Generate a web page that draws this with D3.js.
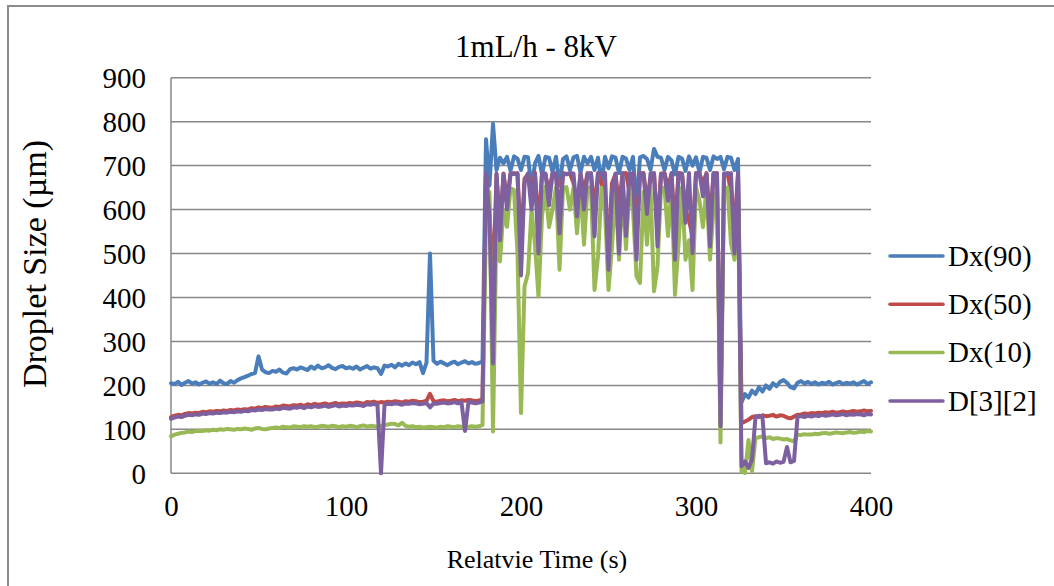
<!DOCTYPE html>
<html>
<head>
<meta charset="utf-8">
<script src="https://cdn.jsdelivr.net/npm/d3@7"></script>
<style>
  html, body { margin: 0; padding: 0; background: #fff; }
  svg { display: block; font-family: "Liberation Serif", "Times New Roman", serif; }
</style>
</head>
<body>
<svg id="chart" width="1054" height="586"></svg>
<script>
// Sampling interval of the measurement, seconds
const sampleStep = 2;

// Y axis tick labels and x axis tick labels
const yTicks = [0, 100, 200, 300, 400, 500, 600, 700, 800, 900];
const xTicks = [0, 100, 200, 300, 400];

const seriesNames = ["Dx(90)", "Dx(50)", "Dx(10)", "D[3][2]"];
const seriesColors = ["#4a7ebb", "#be4b48", "#98b954", "#7d60a0"];

// Droplet sizes (µm), one value every 2 s from 0 to 400 s
const dx90 = [
  205, 203, 208, 201, 206, 210, 204, 207, 202, 206,
  209, 204, 207, 203, 211, 205, 203, 210, 206, 212,
  216, 219, 222, 226, 228, 266, 236, 230, 228, 233,
  231, 236, 229, 227, 237, 239, 236, 241, 238, 235,
  243, 238, 245, 239, 241, 246, 240, 237, 242, 244,
  239, 241, 238, 243, 236, 240, 244, 238, 241, 239,
  226, 245, 243, 247, 241, 249, 245, 250, 246, 252,
  248, 253, 228, 252, 500, 256, 249, 254, 250, 246,
  251, 254, 248, 252, 255, 250, 253, 249, 251, 255,
  760, 655, 795, 690, 718, 705, 720, 688, 721, 716,
  690, 720, 719, 650, 705, 722, 680, 720, 718, 686,
  720, 655, 715, 721, 690, 719, 722, 684, 720, 705,
  720, 690, 718, 660, 720, 694, 721, 718, 683, 720,
  716, 690, 720, 602, 719, 722, 715, 690, 738, 720,
  718, 690, 720, 712, 680, 720, 716, 688, 721, 700,
  719, 684, 720, 718, 690, 721, 715, 720, 692, 720,
  718, 690, 715, 162, 180, 172, 188, 180, 196, 186,
  200, 192, 205, 198, 208, 212, 206, 196, 193, 206,
  210, 204, 208, 203, 207, 202, 206, 204, 208, 202,
  205, 208, 203, 206, 204, 207, 202, 206, 210, 203,
  207
];

const dx50 = [
  128, 131, 133, 132, 135, 137, 136, 138, 137, 140,
  139, 141, 140, 142, 141, 143, 142, 144, 143, 145,
  144, 146, 145, 148, 147, 150, 148, 151, 150, 149,
  152, 151, 154, 153, 152, 155, 154, 156, 153, 157,
  155, 158, 156, 157, 159, 156, 158, 160, 157, 159,
  158, 160, 159, 161, 160, 158, 162, 161, 163, 160,
  162, 161, 163, 162, 164, 163, 161, 164, 163, 165,
  164, 162, 163, 165, 181, 164, 163, 165, 166, 164,
  165, 167, 164, 166, 165, 167, 166, 164, 166, 168,
  682, 600, 420, 680, 560, 682, 620, 681, 683, 680,
  520, 670, 681, 630, 683, 560, 681, 680, 640, 682,
  681, 590, 683, 681, 682, 660, 610, 681, 640, 683,
  681, 600, 683, 660, 615, 520, 660, 681, 610, 682,
  683, 640, 681, 540, 682, 683, 620, 668, 682, 560,
  681, 683, 650, 681, 560, 683, 682, 600, 575, 540,
  683, 681, 660, 683, 570, 681, 683, 112, 681, 683,
  640, 560, 682, 114, 118, 122, 128, 130, 128, 132,
  130, 131, 133, 129, 132, 131, 127, 125, 129, 133,
  134, 136, 135, 137, 136, 138, 137, 139, 138, 140,
  138, 139, 141, 139, 140, 142, 140, 141, 143, 141,
  142
];

const dx10 = [
  84, 88, 90, 92, 93, 95, 94, 96, 97, 96,
  98, 97, 99, 98, 100, 99, 101, 100, 99, 101,
  100, 102, 101, 99, 102, 103, 101, 100, 102, 103,
  104, 103, 106, 105, 104, 107, 106, 105, 107, 106,
  107, 105, 106, 108, 107, 106, 108, 107, 105, 107,
  106, 108, 107, 105, 107, 109, 106, 108, 107, 106,
  108, 110, 111, 113, 112, 109, 115, 108, 106, 107,
  105, 106, 104, 105, 106, 105, 104, 106, 105, 107,
  106, 105, 107, 106, 105, 106, 107, 106, 107, 110,
  580, 640, 95, 577, 482, 600, 561, 648, 645, 500,
  137, 425, 455, 600, 520, 402, 584, 652, 560, 600,
  650, 463, 648, 651, 600, 650, 546, 650, 520, 649,
  651, 417, 493, 650, 600, 417, 516, 650, 486, 649,
  510, 652, 600, 448, 433, 640, 520, 650, 414, 470,
  650, 649, 540, 651, 406, 520, 650, 486, 530, 417,
  651, 620, 560, 650, 486, 600, 650, 70, 640, 650,
  523, 486, 637, 5, 1, 76, 5, 80, 82, 84,
  80, 82, 78, 80, 79, 77, 78, 75, 73, 88,
  87, 89, 88, 88, 90, 89, 91, 92, 90, 91,
  93, 92, 91, 93, 94, 92, 93, 95, 94, 96,
  95
];

const d32 = [
  124, 127, 129, 128, 131, 133, 132, 134, 133, 136,
  135, 137, 136, 138, 137, 139, 138, 140, 139, 141,
  140, 142, 141, 144, 143, 145, 144, 146, 145, 145,
  147, 146, 149, 148, 147, 150, 149, 151, 148, 152,
  150, 153, 151, 152, 154, 151, 153, 155, 152, 154,
  153, 155, 154, 156, 155, 153, 157, 156, 158, 155,
  0, 156, 158, 157, 159, 158, 156, 159, 158, 160,
  159, 157, 158, 160, 150, 159, 158, 160, 161, 159,
  160, 162, 159, 161, 96, 162, 161, 159, 161, 163,
  683, 580, 250, 682, 530, 680, 600, 682, 681, 683,
  450, 660, 682, 600, 681, 500, 683, 682, 610, 681,
  683, 546, 682, 680, 683, 682, 584, 682, 600, 681,
  683, 539, 682, 680, 683, 463, 640, 682, 500, 683,
  540, 682, 682, 486, 683, 681, 590, 682, 683, 516,
  682, 681, 620, 683, 486, 682, 681, 570, 683, 501,
  682, 683, 630, 681, 516, 683, 682, 107, 682, 681,
  683, 500, 683, 16, 27, 12, 31, 128, 131, 127,
  23, 25, 22, 27, 24, 26, 60, 25, 28, 128,
  130, 128, 131, 129, 132, 130, 133, 131, 132, 134,
  132, 133, 135, 132, 134, 133, 135, 134, 132, 135,
  134
];

const seriesValues = [dx90, dx50, dx10, d32];

const svg = d3.select("#chart");

// Plot area
const plot = { left: 171, right: 871, top: 77.7, bottom: 473.3 };

const x = d3.scaleLinear().domain([0, 400]).range([plot.left, plot.right]);
const y = d3.scaleLinear().domain([0, 900]).range([plot.bottom, plot.top]);

// Chart frame
svg.append("rect")
  .attr("x", 8).attr("y", 6)
  .attr("width", 1200).attr("height", 800)
  .attr("fill", "#fff")
  .attr("stroke", "#8c8c8c")
  .attr("stroke-width", 2);

// Horizontal gridlines
svg.append("g")
  .selectAll("line")
  .data(yTicks)
  .join("line")
  .attr("x1", plot.left).attr("x2", plot.right)
  .attr("y1", d => y(d)).attr("y2", d => y(d))
  .attr("stroke", "#878787")
  .attr("stroke-width", 1.5);

// Vertical axis line
svg.append("line")
  .attr("x1", plot.left).attr("x2", plot.left)
  .attr("y1", plot.top).attr("y2", plot.bottom)
  .attr("stroke", "#878787")
  .attr("stroke-width", 1.5);

// Y axis labels
const yAxis = d3.axisLeft(y).tickValues(yTicks).tickSize(0).tickPadding(25);
const gy = svg.append("g").attr("transform", `translate(${plot.left},0)`).call(yAxis);
gy.select(".domain").remove();
gy.selectAll("text")
  .attr("font-family", "Liberation Serif")
  .attr("font-size", 29)
  .attr("fill", "#000")
  .attr("dy", "0.34em");

// X axis labels
const xAxis = d3.axisBottom(x).tickValues(xTicks).tickSize(0).tickPadding(22);
const gx = svg.append("g").attr("transform", `translate(0,${plot.bottom})`).call(xAxis);
gx.select(".domain").remove();
gx.selectAll("text")
  .attr("font-family", "Liberation Serif")
  .attr("font-size", 29)
  .attr("fill", "#000");

// Data lines
const times = dx90.map((_, i) => i * sampleStep);
const line = d3.line()
  .x((d, i) => x(times[i]))
  .y(d => y(d))
  .curve(d3.curveLinear);

svg.append("g")
  .selectAll("path")
  .data(seriesValues)
  .join("path")
  .attr("d", d => line(d))
  .attr("fill", "none")
  .attr("stroke", (d, i) => seriesColors[i])
  .attr("stroke-width", 4)
  .attr("stroke-linejoin", "round")
  .attr("stroke-linecap", "round");

// Title
svg.append("text")
  .attr("x", 536).attr("y", 57)
  .attr("text-anchor", "middle")
  .attr("font-size", 31)
  .attr("fill", "#000")
  .text("1mL/h - 8kV");

// Axis titles
svg.append("text")
  .attr("x", 537).attr("y", 568)
  .attr("text-anchor", "middle")
  .attr("font-size", 26)
  .attr("fill", "#000")
  .text("Relatvie Time (s)");

svg.append("text")
  .attr("transform", "translate(46,264) rotate(-90)")
  .attr("text-anchor", "middle")
  .attr("font-size", 34)
  .attr("fill", "#000")
  .text("Droplet Size (µm)");

// Legend
const legend = svg.append("g")
  .selectAll("g")
  .data(seriesNames)
  .join("g")
  .attr("transform", (d, i) => `translate(890,${256 + i * 48.3})`);

legend.append("line")
  .attr("x1", 0).attr("x2", 53)
  .attr("stroke", (d, i) => seriesColors[i])
  .attr("stroke-width", 3.5)
  .attr("stroke-linecap", "round");

legend.append("text")
  .attr("x", 58).attr("y", 0)
  .attr("dy", "0.34em")
  .attr("font-size", 29)
  .attr("fill", "#000")
  .text(d => d);
</script>
</body>
</html>
